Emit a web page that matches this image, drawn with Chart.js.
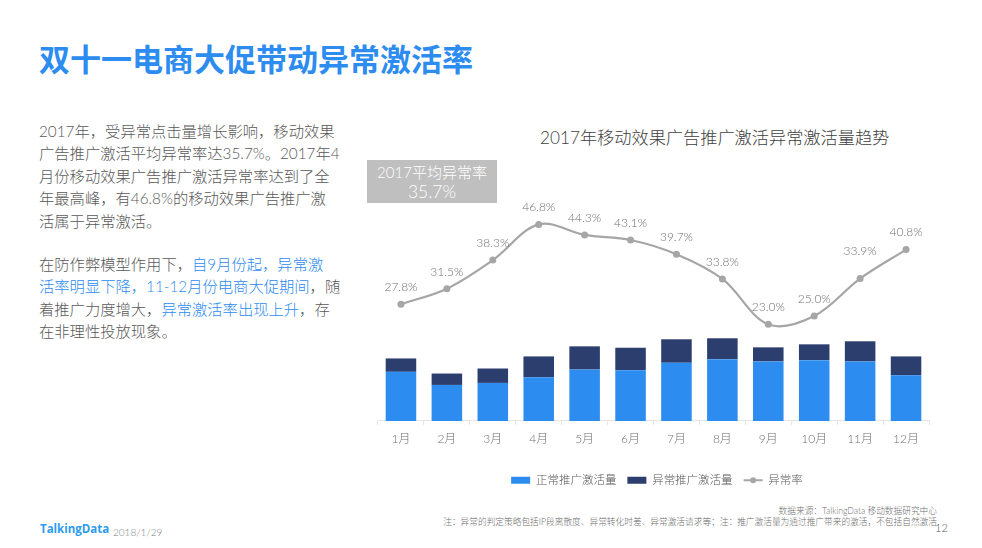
<!DOCTYPE html>
<html>
<head>
<meta charset="utf-8">
<script src="https://cdn.jsdelivr.net/npm/chart.js@4"></script>
<style>
html, body { margin: 0; padding: 0; background: #fff; width: 982px; height: 548px; overflow: hidden; }
body { font-family: Lato, "Noto Sans CJK SC", sans-serif; font-weight: 300; position: relative; }
div { position: absolute; white-space: nowrap; }
#head { left: 39px; top: 36px; font-size: 31px; line-height: 44px; font-weight: bold; color: #2d8cf0; font-family: "Noto Sans CJK SC", sans-serif; }
.para { left: 39px; font-size: 15.3px; line-height: 22.4px; color: #595959; }
.para b { font-weight: 300; color: #2d8cf0; }
#chartTitle { left: 540px; top: 124px; font-size: 17.2px; line-height: 28px; color: #404040; }
#avg { left: 367px; top: 160px; width: 130px; height: 43px; background: #bfbfbf; color: #fff; text-align: center; font-size: 15px; line-height: 19px; padding-top: 3px; box-sizing: border-box; }
#avg span { font-size: 17.5px; }
#box { left: 360px; top: 159px; width: 595px; height: 337px; }
#source, #note { right: 45px; font-size: 8.7px; line-height: 12px; color: #6f6f6f; }
#source { top: 505px; }
#note { top: 516px; }
#logo { left: 40px; top: 521px; font-size: 11.5px; line-height: 15px; font-weight: bold; color: #2d9cf0; font-family: "Open Sans", sans-serif; }
#date { left: 113px; top: 526px; font-size: 10px; line-height: 13px; color: #7f7f7f; }
#page { left: 935px; top: 521px; font-size: 11px; line-height: 14px; color: #595959; }
</style>
</head>
<body>
<div id="head">双十一电商大促带动异常激活率</div>
<div class="para" style="top:120px">2017年，受异常点击量增长影响，移动效果<br>广告推广激活平均异常率达35.7%。2017年4<br>月份移动效果广告推广激活异常率达到了全<br>年最高峰，有46.8%的移动效果广告推广激<br>活属于异常激活。</div>
<div class="para" style="top:253px">在防作弊模型作用下，<b>自9月份起，异常激</b><br><b>活率明显下降，11-12月份电商大促期间</b>，随<br>着推广力度增大，<b>异常激活率出现上升</b>，存<br>在非理性投放现象。</div>
<div id="chartTitle">2017年移动效果广告推广激活异常激活量趋势</div>
<div id="box"><canvas id="combo" width="595" height="337"></canvas></div>
<div id="avg">2017平均异常率<br><span>35.7%</span></div>
<div id="source">数据来源：TalkingData 移动数据研究中心</div>
<div id="note">注：异常的判定策略包括IP段离散度、异常转化时差、异常激活请求等；注：推广激活量为通过推广带来的激活，不包括自然激活</div>
<div id="logo">TalkingData</div>
<div id="date">2018/1/29</div>
<div id="page">12</div>
<script>
var months = ['1月', '2月', '3月', '4月', '5月', '6月', '7月', '8月', '9月', '10月', '11月', '12月'];
var normalVolume = [48.7, 35.7, 37.7, 43.3, 51, 50.3, 57.7, 61.3, 59, 60.3, 59, 45.3];
var abnormalVolume = [13.3, 11.3, 14.3, 20.7, 23, 22.3, 23.3, 20.7, 14, 15.7, 20, 18.7];
var abnormalRate = [27.8, 31.5, 38.3, 46.8, 44.3, 43.1, 39.7, 33.8, 23.0, 25.0, 33.9, 40.8];

var fontFamily = 'Lato, "Noto Sans CJK SC", sans-serif';
var rateColor = '#a6a6a6';

// percent labels above the line
var rateLabels = {
    id: 'rateLabels',
    afterDatasetsDraw: function (chart) {
        var ctx = chart.ctx;
        var points = chart.getDatasetMeta(2).data;
        ctx.save();
        ctx.font = '300 12px ' + fontFamily;
        ctx.fillStyle = '#6f6f6f';
        ctx.textAlign = 'center';
        ctx.textBaseline = 'middle';
        points.forEach(function (p, i) {
            var lift = i === 10 ? 27 : 17; // 11月 sits higher, clear of the line
            ctx.fillText(abnormalRate[i].toFixed(1) + '%', p.x, p.y - lift);
        });
        ctx.restore();
    }
};

// legend swatch for the line series: a stroke with a dot on it
var lineSwatch = {
    id: 'lineSwatch',
    afterLayout: function (chart) {
        // legend is centred a little right of the plot
        chart.legend.left += 3.5;
        chart.legend.right += 3.5;
        chart.legend.legendHitBoxes.forEach(function (hit) { hit.left += 3.5; });
    },
    afterDraw: function (chart) {
        var ctx = chart.ctx;
        var hit = chart.legend.legendHitBoxes[2];
        var y = hit.top + hit.height / 2;
        ctx.save();
        ctx.strokeStyle = rateColor;
        ctx.fillStyle = rateColor;
        ctx.lineWidth = 2;
        ctx.beginPath();
        ctx.moveTo(hit.left, y);
        ctx.lineTo(hit.left + 19, y);
        ctx.stroke();
        ctx.beginPath();
        ctx.arc(hit.left + 9.5, y, 3, 0, Math.PI * 2);
        ctx.fill();
        ctx.restore();
    }
};

new Chart(document.getElementById('combo'), {
    type: 'bar',
    data: {
        labels: months,
        datasets: [{
            label: '正常推广激活量',
            data: normalVolume,
            backgroundColor: '#2d8cf0',
            stack: 'volume',
            yAxisID: 'y',
            categoryPercentage: 1,
            barPercentage: 0.665,
            order: 2
        }, {
            label: '异常推广激活量',
            data: abnormalVolume,
            backgroundColor: '#2c3e6e',
            stack: 'volume',
            yAxisID: 'y',
            categoryPercentage: 1,
            barPercentage: 0.665,
            order: 2
        }, {
            type: 'line',
            label: '异常率',
            data: abnormalRate,
            borderColor: rateColor,
            backgroundColor: rateColor,
            borderWidth: 2.2,
            pointRadius: 3.5,
            pointBackgroundColor: rateColor,
            pointBorderWidth: 0,
            tension: 0.35,
            yAxisID: 'y1',
            order: 1
        }]
    },
    options: {
        responsive: false,
        animation: false,
        layout: { padding: { top: 10, left: 18, right: 26, bottom: 0 } },
        scales: {
            x: {
                grid: { drawOnChartArea: false, color: '#e6e6e6', tickLength: 4 },
                border: { color: '#e6e6e6' },
                ticks: { color: '#6f6f6f', font: { size: 12, weight: '300', family: fontFamily }, padding: 7, maxRotation: 0 },
                afterFit: function (scale) { scale.height = 42.6; }
            },
            y: { display: false, stacked: true, min: 0, max: 250 },
            y1: { display: false, min: 0, max: 60 }
        },
        plugins: {
            title: { display: false },
            tooltip: { enabled: false },
            legend: {
                position: 'bottom',
                labels: {
                    boxWidth: 19,
                    boxHeight: 7,
                    padding: 11,
                    color: '#595959',
                    font: { size: 11.5, weight: '300', family: fontFamily },
                    generateLabels: function (chart) {
                        return chart.data.datasets.map(function (d, i) {
                            var isLine = d.type === 'line';
                            return {
                                text: d.label,
                                fillStyle: isLine ? 'rgba(0,0,0,0)' : d.backgroundColor,
                                strokeStyle: 'rgba(0,0,0,0)',
                                fontColor: '#595959',
                                lineWidth: 0,
                                datasetIndex: i
                            };
                        });
                    }
                }
            }
        }
    },
    plugins: [rateLabels, lineSwatch]
});
</script>
</body>
</html>
